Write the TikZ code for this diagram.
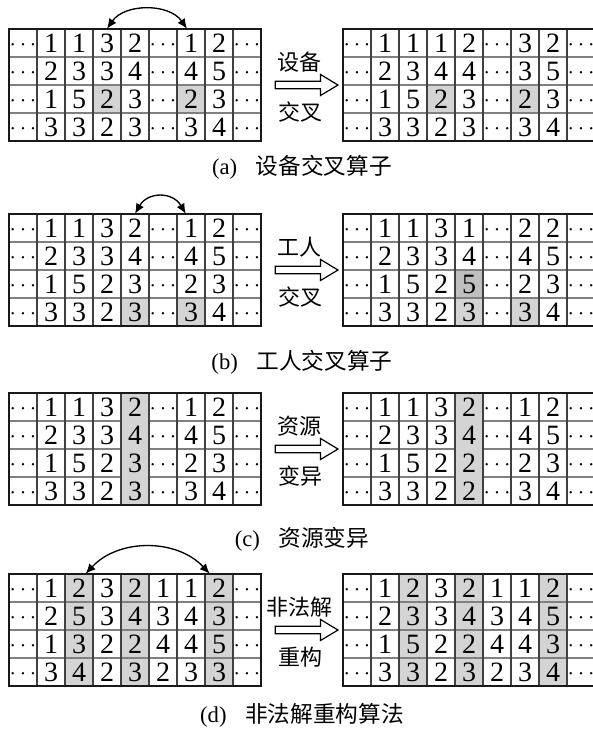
\documentclass[tikz,border=0pt]{standalone}
\usepackage{fontspec}
\setmainfont{Liberation Serif}
\newfontfamily\numfont{Liberation Serif}
\newfontfamily\cjk{Noto Sans CJK SC}
\usetikzlibrary{shapes.arrows,arrows.meta}
\definecolor{shadeL}{gray}{0.83}
\definecolor{shadeD}{gray}{0.75}
\def\dotsmark{c}
\newcommand{\cellval}[1]{\edef\tmpv{#1}\ifx\tmpv\dotsmark\raisebox{1.5pt}{\fontsize{16}{16}\selectfont$\cdots$}\else#1\fi}
\tikzset{
 cellnode/.style={inner sep=0pt, minimum size=21pt, text height=14.5pt, text depth=0pt, font=\numfont\fontsize{21}{21}\selectfont},
 vline/.style={draw=black!75, line width=0.8pt},
 hline/.style={draw=black!50, line width=0.8pt},
 outerline/.style={draw=black!90, line width=1.3pt},
 hollowarrow/.style={single arrow, draw, line width=0.9pt, minimum height=47pt, minimum width=15pt, single arrow head extend=5pt, inner sep=2.4pt, single arrow tip angle=62},
 oplabel/.style={font=\fontsize{16.5}{16.5}\selectfont\cjk, inner sep=0pt},
 captionnode/.style={font=\fontsize{17}{17}\selectfont, inner sep=0pt},
 swaparc/.style={{Latex[length=7.5pt,width=6.5pt]}-{Latex[length=7.5pt,width=6.5pt]}, line width=1pt},
}
% #1 name, #2 x0, #3 y0, #4 shaded cells r/c/colour, #5 whole shaded columns c/colour (over the row lines), #6 rows
\newcommand{\mygrid}[6]{%
  \foreach \ri/\ci/\st in {#4} {\fill[fill=\st] ({#2+(\ci-1)*28},{#3+(\ri-1)*28}) rectangle ++(28,28);}
  \foreach \j in {1,2,3} {\draw[hline] (#2,{#3+\j*28}) -- ++(252,0);}
  \foreach \ci/\st in {#5} {\fill[fill=\st] ({#2+(\ci-1)*28},#3) rectangle ++(28,112);}
  \foreach \i in {1,...,8} {\draw[vline] ({#2+\i*28},#3) -- ++(0,112);}
  \draw[outerline] (#2,#3) rectangle ++(252,112);
  \foreach \row [count=\ri] in {#6} {
    \foreach \v [count=\ci] in \row {
      \node[cellnode] (#1-\ri-\ci) at ({#2+(\ci-0.5)*28},{#3+(\ri-0.5)*28}) {\cellval{\v}};
    }
  }
}
\newcommand{\opmark}[4]{% #1 name, #2 y0, #3 upper text, #4 lower text
  \node[hollowarrow] (#1-arr) at (303.5,{#2+56}) {};
  \node[oplabel] (#1-up) at (299,{#2+33}) {#3};
  \node[oplabel] (#1-lo) at (300,{#2+83}) {#4};
}
\begin{document}
\begin{tikzpicture}[x=0.75pt,y=-0.75pt]
\useasboundingbox (0,0) rectangle (593,729);
\clip (0,0) rectangle (593,729);
\fill[white] (0,0) rectangle (593,729);

% (a)
\mygrid{aL}{9}{29}{3/4/shadeL,3/7/shadeL}{1/none}{{c,1,1,3,2,c,1,2,c},{c,2,3,3,4,c,4,5,c},{c,1,5,2,3,c,2,3,c},{c,3,3,2,3,c,3,4,c}}
\mygrid{aR}{343}{29}{3/4/shadeL,3/7/shadeL}{1/none}{{c,1,1,1,2,c,3,2,c},{c,2,3,4,4,c,3,5,c},{c,1,5,2,3,c,2,3,c},{c,3,3,2,3,c,3,4,c}}
\opmark{a}{29}{设备}{交叉}
\draw[swaparc] (aL-1-4.north) to[bend left=55] ([xshift=-3pt]aL-1-7.north);
\node[captionnode] (capA) at (302,167) {(a)\hspace{14pt}{\cjk 设备交叉算子}};

% (b)
\mygrid{bL}{9}{214}{4/5/shadeL,4/7/shadeL}{1/none}{{c,1,1,3,2,c,1,2,c},{c,2,3,3,4,c,4,5,c},{c,1,5,2,3,c,2,3,c},{c,3,3,2,3,c,3,4,c}}
\mygrid{bR}{343}{214}{3/5/shadeD,4/5/shadeL,4/7/shadeL}{1/none}{{c,1,1,3,1,c,2,2,c},{c,2,3,3,4,c,4,5,c},{c,1,5,2,5,c,2,3,c},{c,3,3,2,3,c,3,4,c}}
\opmark{b}{214}{工人}{交叉}
\draw[swaparc] (bL-1-5.north) to[bend left=60, looseness=1.3] ([xshift=-4pt]bL-1-7.north);
\node[captionnode] (capB) at (302,362) {(b)\hspace{14pt}{\cjk 工人交叉算子}};

% (c)
\mygrid{cL}{9}{393}{1/1/none}{5/shadeL}{{c,1,1,3,2,c,1,2,c},{c,2,3,3,4,c,4,5,c},{c,1,5,2,3,c,2,3,c},{c,3,3,2,3,c,3,4,c}}
\mygrid{cR}{343}{393}{1/1/none}{5/shadeL}{{c,1,1,3,2,c,1,2,c},{c,2,3,3,4,c,4,5,c},{c,1,5,2,2,c,2,3,c},{c,3,3,2,2,c,3,4,c}}
\opmark{c}{393}{资源}{变异}
\node[captionnode] (capC) at (302,539) {(c)\hspace{14pt}{\cjk 资源变异}};

% (d)
\mygrid{dL}{9}{574}{1/3/shadeL,2/3/shadeL,3/3/shadeL,4/3/shadeL,1/5/shadeL,2/5/shadeL,3/5/shadeL,4/5/shadeL,1/8/shadeL,2/8/shadeL,3/8/shadeL,4/8/shadeL}{1/none}{{c,1,2,3,2,1,1,2,c},{c,2,5,3,4,3,4,3,c},{c,1,3,2,2,4,4,5,c},{c,3,4,2,3,2,3,3,c}}
\mygrid{dR}{343}{574}{1/3/shadeL,2/3/shadeL,3/3/shadeL,4/3/shadeL,1/5/shadeL,2/5/shadeL,3/5/shadeL,4/5/shadeL,1/8/shadeL,2/8/shadeL,3/8/shadeL,4/8/shadeL}{1/none}{{c,1,2,3,2,1,1,2,c},{c,2,3,3,4,3,4,5,c},{c,1,5,2,2,4,4,3,c},{c,3,3,2,3,2,3,4,c}}
\opmark{d}{574}{非法解}{重构}
\draw[swaparc] ([xshift=5pt]dL-1-3.north) to[bend left=47] ([xshift=-7pt]dL-1-8.north);
\node[captionnode] (capD) at (302,715) {(d)\hspace{14pt}{\cjk 非法解重构算法}};
\end{tikzpicture}
\end{document}
